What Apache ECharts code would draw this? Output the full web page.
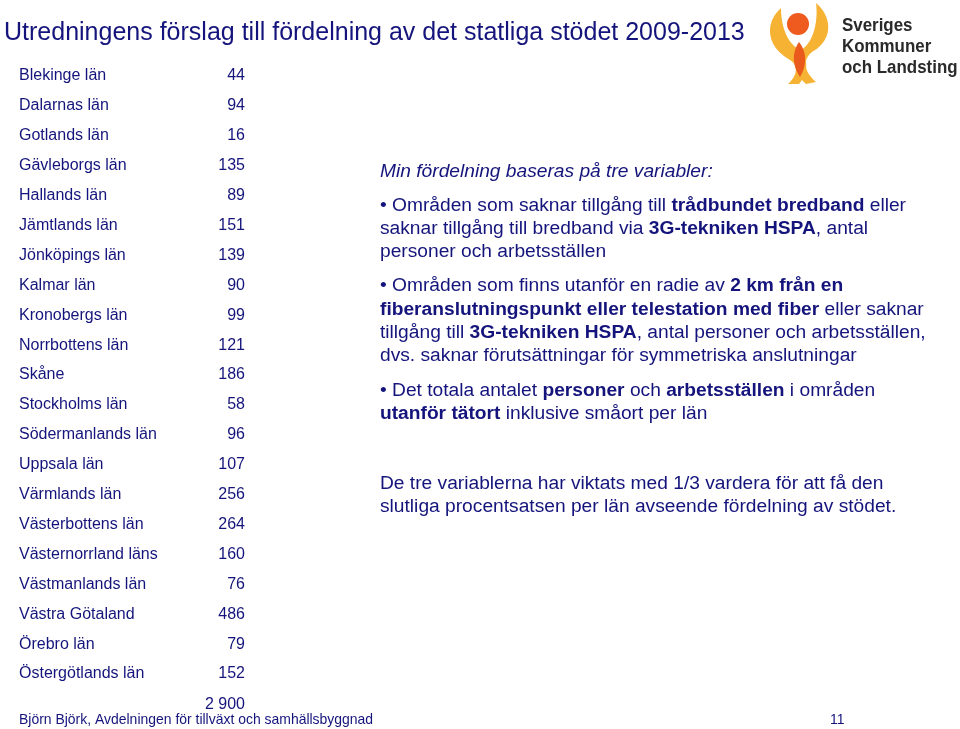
<!DOCTYPE html>
<html>
<head>
<meta charset="utf-8">
<script src="https://cdn.jsdelivr.net/npm/echarts@6/dist/echarts.min.js"></script>
<style>
  html, body { margin: 0; padding: 0; background: #fff; }
  #main { width: 960px; height: 729px; }
</style>
</head>
<body>
<div id="main"></div>
<script>
// stödet per län (mkr)
const lan = [
  "Blekinge län", "Dalarnas län", "Gotlands län", "Gävleborgs län", "Hallands län",
  "Jämtlands län", "Jönköpings län", "Kalmar län", "Kronobergs län", "Norrbottens län",
  "Skåne", "Stockholms län", "Södermanlands län", "Uppsala län", "Värmlands län",
  "Västerbottens län", "Västernorrland läns", "Västmanlands län", "Västra Götaland",
  "Örebro län", "Östergötlands län"
];
const belopp = [44, 94, 16, 135, 89, 151, 139, 90, 99, 121, 186, 58, 96, 107, 256, 264, 160, 76, 486, 79, 152];
const totalText = "2 900";

const navy = "#14147c";
const font = "Liberation Sans, Arial, sans-serif";

// högertexten, rad för rad (y = radens mitt)
const textLines = [
  [206, "• Områden som saknar tillgång till {b|trådbundet bredband} eller"],
  [229, "saknar tillgång till bredband via {b|3G-tekniken HSPA}, antal"],
  [252, "personer och arbetsställen"],
  [286, "• Områden som finns utanför en radie av {b|2 km från en}"],
  [310, "{b|fiberanslutningspunkt eller telestation med fiber} eller saknar"],
  [333, "tillgång till {b|3G-tekniken HSPA}, antal personer och arbetsställen,"],
  [356, "dvs. saknar förutsättningar för symmetriska anslutningar"],
  [391, "• Det totala antalet {b|personer} och {b|arbetsställen} i områden"],
  [414, "{b|utanför tätort} inklusive småort per län"],
  [484, "De tre variablerna har viktats med 1/3 vardera för att få den"],
  [507, "slutliga procentsatsen per län avseende fördelning av stödet."]
];

// bezier-kurvor -> polygonpunkter (för loggan)
function bez(segs) {
  const pts = [];
  segs.forEach(function (s) {
    for (let i = 0; i <= 12; i++) {
      const t = i / 12, u = 1 - t;
      pts.push([
        u * u * u * s[0][0] + 3 * u * u * t * s[1][0] + 3 * u * t * t * s[2][0] + t * t * t * s[3][0],
        u * u * u * s[0][1] + 3 * u * u * t * s[1][1] + 3 * u * t * t * s[2][1] + t * t * t * s[3][1]
      ]);
    }
  });
  return pts;
}

const chart = echarts.init(document.getElementById("main"));

const logoFont = "bold 19px Liberation Sans, Arial, sans-serif";
const smallFont = "15px Liberation Sans, Arial, sans-serif";
const bodyFont = "19.2px " + font;

const graphics = [
  {
    type: "text", x: 4, y: 33,
    style: { text: "Utredningens förslag till fördelning av det statliga stödet 2009-2013",
      font: "25px " + font, fill: navy, verticalAlign: "middle" }
  },
  {
    type: "text", x: 380, y: 172,
    style: { text: "Min fördelning baseras på tre variabler:", font: "italic " + bodyFont,
      fill: navy, verticalAlign: "middle" }
  },
  {
    type: "text", x: 245, y: 705,
    style: { text: totalText, font: "16px " + font, fill: navy, align: "right", verticalAlign: "middle" }
  },
  {
    type: "text", x: 19, y: 720, scaleX: 0.93,
    style: { text: "Björn Björk, Avdelningen för tillväxt och samhällsbyggnad",
      font: smallFont, fill: navy, verticalAlign: "middle" }
  },
  {
    type: "text", x: 830, y: 720, scaleX: 0.93,
    style: { text: "11", font: smallFont, fill: navy, verticalAlign: "middle" }
  },
  // logga
  {
    type: "polygon",
    shape: { points: bez([
      [[781, 8], [765, 22], [765, 46], [790, 60]],
      [[790, 60], [799, 66], [797, 76], [788, 84]],
      [[799, 84], [809, 72], [808, 58], [800, 50]],
      [[800, 50], [788, 44], [781, 28], [781, 8]]
    ]) },
    style: { fill: "#f5b233" }
  },
  {
    type: "polygon",
    shape: { points: bez([
      [[816, 3], [832, 16], [834, 40], [812, 52]],
      [[812, 52], [802, 60], [804, 72], [816, 82]],
      [[806, 84], [792, 72], [794, 56], [806, 46]],
      [[806, 46], [815, 36], [818, 18], [816, 3]]
    ]) },
    style: { fill: "#f5b233" }
  },
  {
    type: "polygon",
    shape: { points: bez([
      [[799, 42], [807, 52], [807, 65], [800, 77]],
      [[800, 77], [792, 65], [792, 52], [799, 42]]
    ]) },
    style: { fill: "#ea5a1c" }
  },
  {
    type: "circle", shape: { cx: 798, cy: 24, r: 11 },
    style: { fill: "#ef5a1e" }
  },
  {
    type: "text", x: 842, y: 26, scaleX: 0.89,
    style: { text: "Sveriges", font: logoFont, fill: "#2a2a2a", verticalAlign: "middle" }
  },
  {
    type: "text", x: 842, y: 47, scaleX: 0.89,
    style: { text: "Kommuner", font: logoFont, fill: "#2a2a2a", verticalAlign: "middle" }
  },
  {
    type: "text", x: 842, y: 68, scaleX: 0.89,
    style: { text: "och Landsting", font: logoFont, fill: "#2a2a2a", verticalAlign: "middle" }
  }
];

textLines.forEach(function (l) {
  graphics.push({
    type: "text", x: 380, y: l[0],
    style: {
      text: l[1], font: bodyFont, fill: navy, verticalAlign: "middle",
      rich: { b: { fontWeight: "bold", fontSize: 19.2, fontFamily: font, fill: navy } }
    }
  });
});

const option = {
  backgroundColor: "#fff",
  animation: false,
  grid: { left: 19, width: 226, top: 61, height: 628 },
  xAxis: { type: "value", show: false, min: 0, max: 1 },
  yAxis: [
    {
      type: "category", inverse: true, position: "left", data: lan,
      axisLine: { show: false }, axisTick: { show: false }, splitLine: { show: false },
      axisLabel: { inside: true, margin: 0, color: navy, fontSize: 16, fontFamily: font, interval: 0 }
    },
    {
      type: "category", inverse: true, position: "right", data: belopp.map(String),
      axisLine: { show: false }, axisTick: { show: false }, splitLine: { show: false },
      axisLabel: { inside: true, margin: 0, color: navy, fontSize: 16, fontFamily: font, interval: 0 }
    }
  ],
  series: [],
  graphic: graphics
};

chart.setOption(option);
</script>
</body>
</html>
